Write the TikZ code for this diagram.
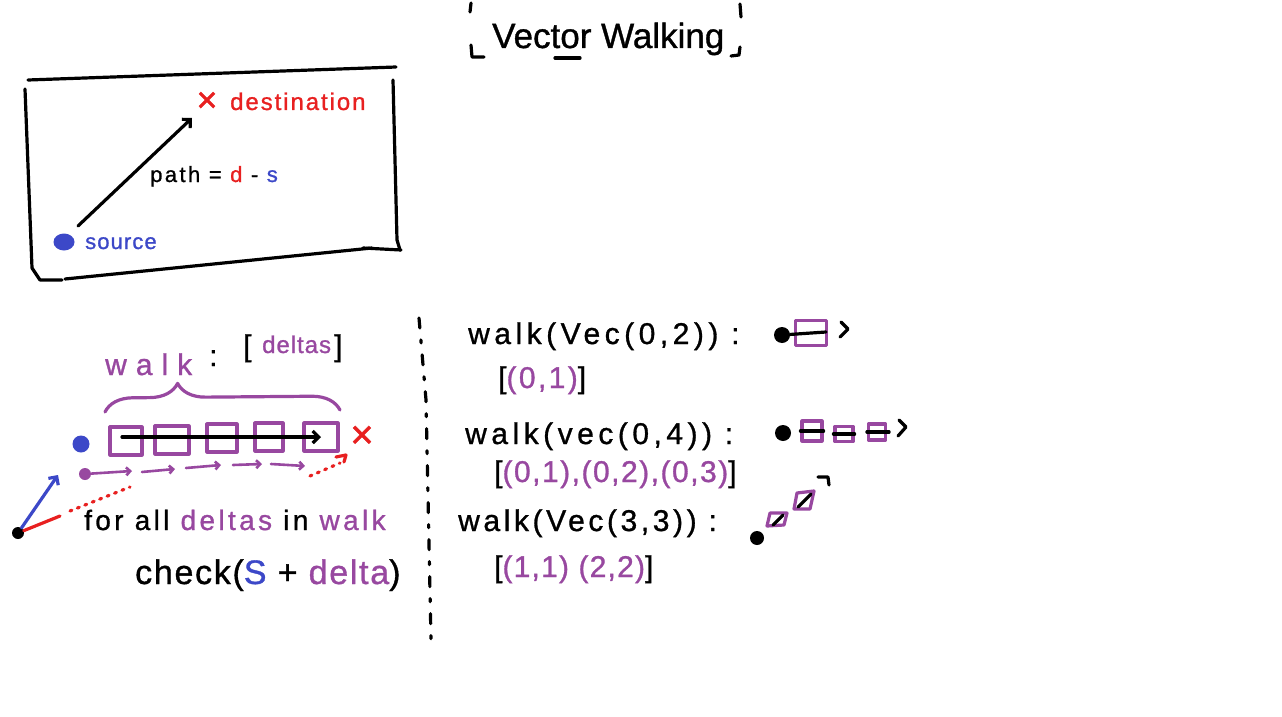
\documentclass[tikz,border=0pt]{standalone}
\usepackage{fontspec}
\setmainfont[FakeBold=1]{Liberation Sans}
\usetikzlibrary{arrows.meta,decorations.pathreplacing,shapes.geometric}
\definecolor{pur}{RGB}{152,72,160}
\definecolor{rd}{RGB}{232,32,32}
\definecolor{bl}{RGB}{60,72,200}
\newcommand{\fsz}[1]{\fontsize{#1}{#1}\selectfont}
\newcommand{\lsp}[1]{\addfontfeature{LetterSpace=#1}}
\begin{document}
\begin{tikzpicture}[x=1pt,y=-1pt,
  ink/.style={line width=3.2pt,line cap=round,line join=round},
  txt/.style={inner sep=0pt,anchor=base west},
  dot/.style={circle,inner sep=0pt,fill=#1},
  sq/.style={draw=pur,ink,inner sep=0pt},
  tip/.style={-{Straight Barb[length=6pt,width=12pt]}}]
\useasboundingbox[fill=white] (0,0) rectangle (1282,717);
% title
\node[txt,font=\fsz{35}] (title) at (492,48) {Vector Walking};
\draw[ink] (471,3) -- (470,12);
\draw[ink] (471,45) -- (472,57) -- (484,57);
\draw[ink] (555,58) -- (580,58);
\draw[ink] (740,4) -- (741,17);
\draw[ink] (731,56) -- (739,55) -- (740,47);
% box
\draw[ink] (28,80) -- (396,67);
\draw[ink] (393,80) -- (397,240) -- (400,250);
\draw[ink] (363,248) -- (401,250);
\draw[ink] (65,279) -- (372,248);
\draw[ink] (25,89) -- (32,268) -- (40,280) -- (62,280);
\node[ellipse,fill=bl,minimum width=21pt,minimum height=17pt,inner sep=0pt] (src) at (64,242) {};
\node[txt,text=bl,font=\fsz{22}\lsp{5}] (srclbl) at (85,249) {source};
\node[text=rd,font=\fsz{36},inner sep=0pt] (dstx) at (207,102) {×};
\node[txt,text=rd,font=\fsz{24}\lsp{8}] (dst) at (230,110) {destination};
\coordinate (arrS) at (78,226);
\coordinate (arrE) at (192,118);
\draw[ink,tip] (arrS) -- (arrE);
\node[txt,font=\fsz{22}\lsp{11}] (pathlbl) at (150,182) {path = \textcolor{rd}{d} - \textcolor{bl}{s}};
% lower left
\node[txt,text=pur,font=\fsz{30}\lsp{30}] (walkA) at (105,375) {walk};
\node[txt,font=\fsz{30}] (colA) at (209,366) {:};
\node[txt,font=\fsz{30}] (lbA) at (243,356) {[};
\node[txt,text=pur,font=\fsz{24}\lsp{4}] (deltasA) at (262,353) {deltas};
\node[txt,font=\fsz{30}] (rbA) at (334,356) {]};
\draw[pur,ink,decorate,decoration={brace,amplitude=28pt,aspect=0.31}] (105,412) -- (340,410);
\node[sq,minimum width=32pt,minimum height=28pt] (b1) at (126,441) {};
\node[sq,minimum width=34pt,minimum height=28pt] (b2) at (172,440) {};
\node[sq,minimum width=30pt,minimum height=28pt] (b3) at (222,438) {};
\node[sq,minimum width=28pt,minimum height=28pt] (b4) at (269,437) {};
\node[sq,minimum width=34pt,minimum height=28pt] (b5) at (321,437) {};
\draw[ink,tip] ([xshift=-4pt,yshift=4pt]b1.center) -- (b5.center);
\node[text=rd,font=\fsz{40},inner sep=0pt] (x2) at (362,437) {×};
\node[dot=bl,minimum size=17pt] (s2) at (81,444) {};
\node[dot=pur,minimum size=12pt] (p0) at (85,474) {};
\coordinate (a1) at (132,471);
\coordinate (a2s) at (142,472); \coordinate (a2) at (175,469);
\coordinate (a3s) at (186,468); \coordinate (a3) at (221,465);
\coordinate (a4s) at (233,465); \coordinate (a4) at (262,464);
\coordinate (a5s) at (271,464); \coordinate (a5) at (305,466);
\begin{scope}[pur,ink,line width=2.6pt,-{Straight Barb[length=4pt,width=8pt]}]
\draw (p0) -- (a1);
\draw (a2s) -- (a2);
\draw (a3s) -- (a3);
\draw (a4s) -- (a4);
\draw (a5s) -- (a5);
\end{scope}
\draw[rd,ink,dash pattern=on 2pt off 6pt] (310,476) -- (340,463);
\draw[rd,ink] (336,457) -- (346,455) -- (344,462);
\node[dot=black,minimum size=12pt] (o) at (18,533) {};
\coordinate (bt) at (58,475);
\draw[bl,ink,tip] (o) -- (bt);
\coordinate (rm) at (60,516);
\coordinate (rt) at (130,487);
\draw[rd,ink] (o) -- (rm);
\draw[rd,ink,dash pattern=on 2pt off 6pt] (70,511) -- (rt);
\node[txt,font=\fsz{28}\lsp{12}] (forall) at (84,530) {for all \textcolor{pur}{deltas} in \textcolor{pur}{walk}};
\node[txt,font=\fsz{34}\lsp{5}] (check) at (135,584) {check(\textcolor{bl}{S} + \textcolor{pur}{delta})};
% divider
\draw[ink,dash pattern=on 10pt off 12pt on 3pt off 12pt] (419,318) -- (426,400) -- (431,640);
% right side
\node[txt,font=\fsz{30}\lsp{15}] (w1) at (468,344) {walk(Vec(0,2)) :};
\node[dot=black,minimum size=16pt] (d1) at (782,335) {};
\node[sq,minimum width=31pt,minimum height=25pt] (c1) at (811,333) {};
\draw[ink] (d1) -- (826,332);
\draw[ink] (841,322) -- (848,329) -- (840,337);
\node[txt,font=\fsz{30}\lsp{8}] (l1) at (498,388) {[\textcolor{pur}{(0,1)}]};
\node[txt,font=\fsz{30}\lsp{15}] (w2) at (465,444) {walk(vec(0,4)) :};
\node[dot=black,minimum size=16pt] (d2) at (783,433) {};
\node[sq,minimum width=20pt,minimum height=20pt] (c2) at (812,431) {};
\node[sq,minimum width=18pt,minimum height=15pt] (c3) at (844,434) {};
\node[sq,minimum width=17pt,minimum height=16pt] (c4) at (877,432) {};
\draw[ink] (c2.west) -- (c2.east);
\draw[ink] (c3.west) -- (c3.east);
\draw[ink] (c4.west) -- ([xshift=2pt]c4.east);
\draw[ink] (899,420) -- (906,427) -- (898,436);
\node[txt,font=\fsz{30}\lsp{5}] (l2) at (494,482) {[\textcolor{pur}{(0,1),(0,2),(0,3)}]};
\node[txt,font=\fsz{30}\lsp{12}] (w3) at (458,531) {walk(Vec(3,3)) :};
\node[dot=black,minimum size=14pt] (d3) at (757,538) {};
\draw[pur,ink] (770,513) -- (787,513) -- (784,525) -- (767,526) -- cycle;
\draw[pur,ink] (797,493) -- (814,491) -- (810,509) -- (794,509) -- cycle;
\draw[ink] (773,525) -- (783,515);
\draw[ink] (798,507) -- (811,494);
\draw[ink] (818,477) -- (828,477) -- (829,485);
\node[txt,font=\fsz{30}\lsp{4}] (l3) at (494,577) {[\textcolor{pur}{(1,1) (2,2)}]};
\end{tikzpicture}
\end{document}
